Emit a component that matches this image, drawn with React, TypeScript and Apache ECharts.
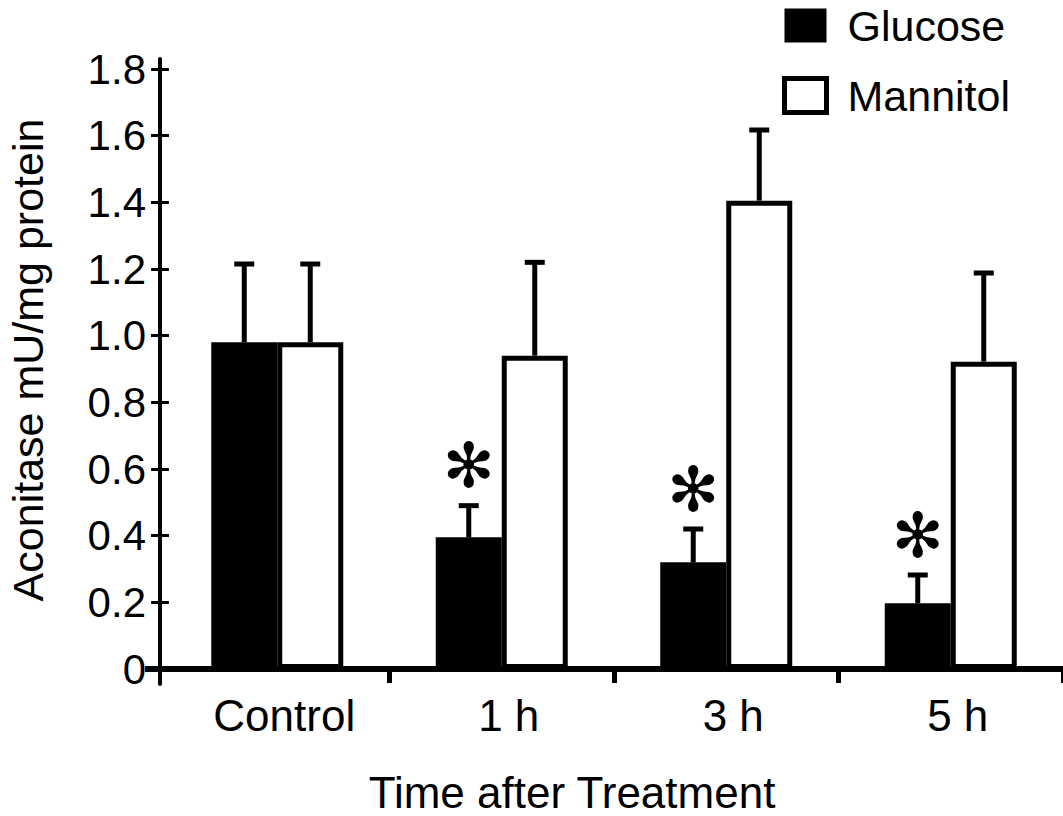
import React, { useEffect, useRef } from "react";
import * as echarts from "echarts";

const categories = ["Control", "1 h", "3 h", "5 h"];
const glucose = [0.98, 0.395, 0.32, 0.197];
const glucoseErrTop = [1.215, 0.49, 0.42, 0.282];
const mannitol = [0.98, 0.94, 1.405, 0.922];
const mannitolErrTop = [1.215, 1.22, 1.617, 1.188];
const significant = [0, 1, 1, 1];
const yTickValues = [0, 0.2, 0.4, 0.6, 0.8, 1.0, 1.2, 1.4, 1.6, 1.8];
const yTickLabels = ["0", "0.2", "0.4", "0.6", "0.8", "1.0", "1.2", "1.4", "1.6", "1.8"];
const legendNames = ["Glucose", "Mannitol"];
const xTitle = "Time after Treatment";
const yTitle = "Aconitase mU/mg protein";

const FONT = "'Liberation Sans', Arial, sans-serif";
const BAR_W = 66;

function errorSeries(name: string, values: number[], tops: number[], side: number, withStar: boolean) {
  return {
    type: "custom",
    name,
    z: 5,
    silent: true,
    data: values.map((v, i) => [i, v, tops[i], withStar ? significant[i] : 0]),
    renderItem: (params: any, api: any) => {
      const idx = api.value(0);
      const val = api.value(1);
      const top = api.value(2);
      const star = api.value(3);
      const base = api.coord([idx, val]);
      const tp = api.coord([idx, top]);
      const x = base[0] + side * (BAR_W / 2);
      const children: any[] = [
        { type: "line", shape: { x1: x, y1: base[1], x2: x, y2: tp[1] }, style: { stroke: "#000", lineWidth: 5 } },
        { type: "line", shape: { x1: x - 10, y1: tp[1], x2: x + 10, y2: tp[1] }, style: { stroke: "#000", lineWidth: 5 } },
      ];
      if (star) {
        children.push({
          type: "text",
          x: x,
          y: tp[1] - 40,
          style: {
            text: "✻",
            fontSize: 62,
            fontFamily: "'DejaVu Sans'",
            fill: "#000",
            align: "center",
            verticalAlign: "middle",
          },
        });
      }
      return { type: "group", children };
    },
  };
}

export default function App() {
  const ref = useRef<HTMLDivElement>(null);
  useEffect(() => {
    const chart = echarts.init(ref.current!, null, { renderer: "svg" });
    const yCommon = {
      type: "value",
      min: -0.045,
      max: 1.83,
      position: "left",
      offset: 5,
      splitLine: { show: false },
    };
    chart.setOption({
      animation: false,
      backgroundColor: "#fff",
      textStyle: { fontFamily: FONT, color: "#000" },
      grid: { left: 165, top: 59, width: 904, bottom: 132, containLabel: false },
      legend: {
        orient: "vertical",
        left: 782,
        top: 4,
        padding: 0,
        itemWidth: 42,
        itemHeight: 34,
        itemGap: 27,
        icon: "rect",
        selectedMode: false,
        textStyle: { fontSize: 43, fontFamily: FONT, color: "#000", padding: [0, 0, 0, 16] },
        data: [
          { name: legendNames[0], itemStyle: { color: "#000", borderWidth: 0 } },
          { name: legendNames[1], itemStyle: { color: "#fff", borderColor: "#000", borderWidth: 5 } },
        ],
      },
      xAxis: {
        type: "category",
        data: categories,
        axisLine: { onZero: true, lineStyle: { color: "#000", width: 6 } },
        axisTick: { show: true, length: 14, lineStyle: { color: "#000", width: 5 }, interval: (i: number) => i !== 0 },
        axisLabel: { fontSize: 44, fontFamily: FONT, color: "#000", margin: 9, padding: [0, 0, 0, 14] },
      },
      yAxis: [
        {
          ...yCommon,
          axisLine: { show: true, lineStyle: { color: "#000", width: 4 } },
          axisTick: { show: true, length: 9, lineStyle: { color: "#000", width: 3 }, customValues: yTickValues },
          axisLabel: {
            fontSize: 42,
            fontFamily: FONT,
            color: "#000",
            margin: 14,
            customValues: yTickValues,
            formatter: (v: number) => {
              const i = yTickValues.findIndex((t) => Math.abs(t - v) < 1e-6);
              return i >= 0 ? yTickLabels[i] : "";
            },
          },
        },
        {
          ...yCommon,
          axisLine: { show: false },
          axisTick: { show: true, inside: true, length: 9, lineStyle: { color: "#000", width: 3 }, customValues: yTickValues },
          axisLabel: { show: false },
        },
      ],
      graphic: [
        { type: "line", shape: { x1: 145, y1: 669, x2: 166, y2: 669 }, style: { stroke: "#000", lineWidth: 6 } },
        {
          type: "text",
          x: 572,
          y: 770,
          style: { text: xTitle, fontSize: 44, fontFamily: FONT, fill: "#000", align: "center", verticalAlign: "top" },
        },
        {
          type: "text",
          x: 28,
          y: 360,
          rotation: Math.PI / 2,
          style: { text: yTitle, fontSize: 43, fontFamily: FONT, fill: "#000", align: "center", verticalAlign: "middle" },
        },
      ],
      series: [
        {
          type: "bar",
          name: legendNames[0],
          data: glucose,
          barWidth: BAR_W,
          barGap: "0%",
          itemStyle: { color: "#000" },
          z: 2,
        },
        {
          type: "bar",
          name: legendNames[1],
          data: mannitol,
          barWidth: BAR_W,
          barGap: "0%",
          itemStyle: { color: "#fff", borderColor: "#000", borderWidth: 5 },
          z: 3,
        },
        errorSeries("gErr", glucose, glucoseErrTop, -1, true),
        errorSeries("mErr", mannitol, mannitolErrTop, 1, false),
      ],
    });
    return () => chart.dispose();
  }, []);
  return <div ref={ref} style={{ position: "fixed", left: 0, top: 0, width: 1063, height: 816 }} />;
}
